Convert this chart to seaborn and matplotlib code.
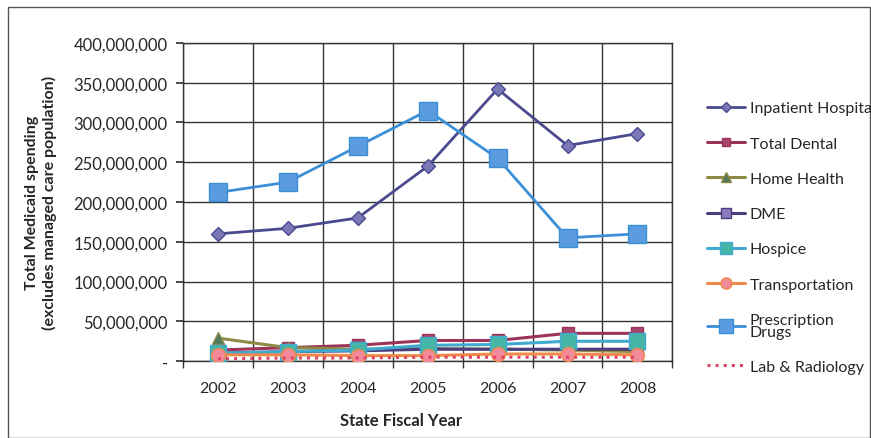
import matplotlib
matplotlib.use("Agg")
import matplotlib.pyplot as plt
import seaborn as sns
import pandas as pd
import numpy as np
from matplotlib.ticker import FuncFormatter, MultipleLocator
from matplotlib.patches import Rectangle

years = ["2002", "2003", "2004", "2005", "2006", "2007", "2008"]
inpatient = [160e6, 167e6, 180e6, 245e6, 342e6, 271e6, 286e6]
dental = [14e6, 17e6, 20e6, 26e6, 26e6, 35e6, 35e6]
home_health = [29e6, 17e6, 15e6, 16e6, 15e6, 14e6, 12e6]
dme = [10e6, 12e6, 13e6, 15e6, 15e6, 15e6, 15e6]
hospice = [10e6, 12e6, 14e6, 20e6, 21e6, 25e6, 25e6]
transportation = [8e6, 8e6, 7e6, 7e6, 9e6, 9e6, 8e6]
prescription = [212e6, 225e6, 270e6, 315e6, 255e6, 155e6, 160e6]
lab_radiology = [3e6, 4e6, 4e6, 5e6, 5e6, 5e6, 5e6]

series_names = ["Inpatient Hospita", "Total Dental", "Home Health", "DME",
                "Hospice", "Transportation", "Prescription\nDrugs", "Lab & Radiology"]
series_values = [inpatient, dental, home_health, dme, hospice,
                 transportation, prescription, lab_radiology]
line_colors = ["#4b4a8f", "#9c3358", "#8e8a45", "#4b3d7e", "#3fa9d0",
               "#f08a4b", "#3a8fd6", "#e0435f"]
face_colors = ["#7b78b8", "#a8456d", "#4f7a5a", "#8a7ac0", "#47b5a5",
               "#f28a9a", "#5b9ce0", "#e0435f"]
markers = ["D", "s", "^", "s", "s", "o", "s", None]
msizes = [7, 8, 9, 9, 11, 10, 13, 0]

rows = []
for name, vals in zip(series_names, series_values):
    for i, v in enumerate(vals):
        rows.append({"series": name, "x": i, "value": v})
df = pd.DataFrame(rows)

sns.set_theme(style="white")
plt.rcParams["font.family"] = ["Lato", "DejaVu Sans"]

fig = plt.figure(figsize=(8.71, 4.39), dpi=100)
ax = fig.add_axes([0.210, 0.175, 0.562, 0.725])

for i, name in enumerate(series_names):
    sub = df[df["series"] == name]
    sns.lineplot(data=sub, x="x", y="value", ax=ax, color=line_colors[i],
                 marker=markers[i] if markers[i] else None,
                 markersize=msizes[i], markerfacecolor=face_colors[i],
                 markeredgecolor=line_colors[i], markeredgewidth=1,
                 linewidth=2 if i in (0, 6) else 2.2,
                 linestyle=":" if i == 7 else "-", label=name,
                 legend=False, zorder=3 + i)

ax.set_xlim(-0.5, 6.5)
ax.set_ylim(0, 400e6)
ax.set_xticks(range(len(years)))
ax.set_xticklabels(years, fontsize=11.5)
ax.set_xticks(np.arange(-0.5, 7, 1), minor=True)
ax.yaxis.set_major_locator(MultipleLocator(50e6))
ax.yaxis.set_major_formatter(FuncFormatter(lambda v, p: "-" if v == 0 else f"{int(v):,}"))
ax.tick_params(axis="y", labelsize=12, length=5, color="#333333", direction="out", left=True, pad=6)
ax.tick_params(axis="x", which="major", length=0, pad=14)
ax.tick_params(axis="x", which="minor", length=5, color="#333333", bottom=True)
ax.grid(True, axis="y", which="major", color="#333333", linewidth=1)
ax.grid(True, axis="x", which="minor", color="#333333", linewidth=1)
for s in ax.spines.values():
    s.set_color("#333333")
    s.set_linewidth(1)

ax.set_xlabel("State Fiscal Year", fontsize=12, fontweight="bold")
ax.xaxis.set_label_coords(0.445, -0.16)
ax.set_ylabel("Total Medicaid spending\n(excludes managed care population)",
              fontsize=11.5, fontweight="bold", labelpad=12)

handles, labels = ax.get_legend_handles_labels()
leg = fig.legend(handles, labels, loc="upper left", bbox_to_anchor=(0.795, 0.80),
                 frameon=False, fontsize=11.5, handlelength=2.4, labelspacing=1.32,
                 handletextpad=0.3, markerscale=0.8)
for t in leg.get_texts():
    t.set_linespacing(0.8)

fig.patches.append(Rectangle((0.009, 0.0), 0.99, 0.982, transform=fig.transFigure,
                             fill=False, edgecolor="#555555", linewidth=1))

fig.savefig("out.png", dpi=100, facecolor="white")
